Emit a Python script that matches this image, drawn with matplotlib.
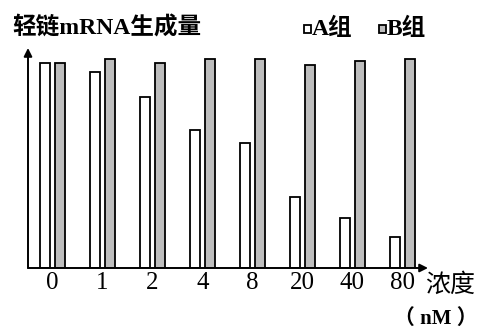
import matplotlib.pyplot as plt
import numpy as np

plt.rcParams['font.family'] = ['Liberation Serif', 'Noto Sans CJK SC']

concs = ["0", "1", "2", "4", "8", "20", "40", "80"]
group_a = [98, 94, 82, 66, 60, 34, 24, 15]
group_b = [98, 100, 98, 100, 100, 97, 99, 100]

W, H = 480, 334
fig = plt.figure(figsize=(W / 100, H / 100), dpi=100)
ax = fig.add_axes([28 / W, (H - 268) / H, 400 / W, 220 / H])

x = np.arange(len(concs))
ax.bar(x - 0.15, group_a, width=0.2, facecolor="white", edgecolor="black", linewidth=1.3)
ax.bar(x + 0.15, group_b, width=0.2, facecolor="#bdbdbd", edgecolor="black", linewidth=1.3)

ax.set_xlim(-0.49, 7.51)
ax.set_ylim(0, 105.3)
for s in ax.spines.values():
    s.set_visible(False)

# axes drawn as arrows
arr = dict(arrowstyle="-|>", color="black", lw=1.4, mutation_scale=12, shrinkA=0, shrinkB=0)
ax.annotate("", xy=(0, 1), xytext=(0, 0), xycoords="axes fraction", arrowprops=arr)
ax.annotate("", xy=(1, 0), xytext=(0, 0), xycoords="axes fraction", arrowprops=arr)

ax.set_yticks([])
ax.set_xticks(x)
ax.set_xticklabels(concs, fontsize=18)
ax.tick_params(axis="x", length=0, pad=3)

fig.text(12 / W, 1 - 28 / H, "轻链mRNA生成量", fontsize=17, fontweight="bold", va="center", ha="left")
fig.text(1 - 5 / W, 1 - 285 / H, "浓度", fontsize=18, va="center", ha="right")
fig.text(1 - 2 / W, 1 - 319 / H, "（ nM ）", fontsize=15, fontweight="bold", va="center", ha="right")

# legend
fig.patches.append(plt.Rectangle((304 / W, 1 - 33 / H), 7 / W, 8 / H, transform=fig.transFigure,
                                 facecolor="white", edgecolor="black", lw=1.3))
fig.text(312 / W, 1 - 29 / H, "A组", fontsize=17, fontweight="bold", va="center", ha="left")
fig.patches.append(plt.Rectangle((379 / W, 1 - 33 / H), 7 / W, 8 / H, transform=fig.transFigure,
                                 facecolor="#bdbdbd", edgecolor="black", lw=1.3))
fig.text(387 / W, 1 - 29 / H, "B组", fontsize=17, fontweight="bold", va="center", ha="left")

plt.savefig("out.png", dpi=100)
